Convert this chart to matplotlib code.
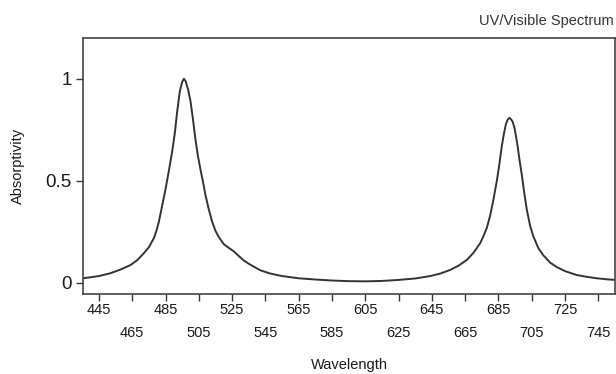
import matplotlib.pyplot as plt

# absorptivity
wavelength = [435, 440, 445, 452, 458, 464, 468, 472, 475, 478, 479.5, 481, 483, 485, 487,
              489, 490.5, 492, 493.6, 495, 496, 497, 498.6, 500, 501.5, 503, 504.5, 506,
              507.5, 509, 511, 513, 515, 517, 520, 523, 526, 529, 532, 535, 538, 542, 548,
              555, 565, 575, 585, 595, 605, 615, 625, 635, 644, 650, 656, 661, 666, 670,
              674, 676, 678, 680, 682, 684, 685.5, 687, 688, 689.4, 690.5, 691.6, 692.7,
              693.5, 694.6, 695.5, 696.5, 697.5, 699, 700.5, 702, 704, 706, 709, 712, 716,
              720, 725, 732, 738, 744, 750, 755]
absorptivity = [0.023, 0.028, 0.034, 0.048, 0.066, 0.088, 0.112, 0.146, 0.175, 0.22, 0.255,
                0.30, 0.38, 0.46, 0.55, 0.645, 0.73, 0.84, 0.94, 0.985, 1.0, 0.99, 0.946,
                0.89, 0.80, 0.70, 0.62, 0.555, 0.495, 0.43, 0.36, 0.30, 0.255, 0.225, 0.19,
                0.172, 0.155, 0.132, 0.11, 0.094, 0.08, 0.062, 0.046, 0.034, 0.023, 0.017,
                0.012, 0.009, 0.008, 0.01, 0.015, 0.022, 0.034, 0.046, 0.064, 0.085, 0.113,
                0.148, 0.195, 0.23, 0.27, 0.33, 0.41, 0.5, 0.58, 0.67, 0.72, 0.776, 0.80,
                0.809, 0.80, 0.79, 0.76, 0.72, 0.67, 0.61, 0.53, 0.44, 0.36, 0.28, 0.227,
                0.17, 0.135, 0.1, 0.078, 0.058, 0.039, 0.03, 0.023, 0.018, 0.015]

xticks = list(range(445, 746, 20))
yticks = [0, 0.5, 1]
ytick_labels = ['0', '0.5', '1']

plt.rcParams['font.family'] = ['Liberation Sans', 'DejaVu Sans']

fig = plt.figure(figsize=(6.16, 3.74), dpi=100)
ax = fig.add_axes([0.1347, 0.2139, 0.8637, 0.6845])

ax.plot(wavelength, absorptivity, color='#333333', linewidth=1.4)

ax.set_xlim(435.4, 755)
ax.set_ylim(-0.054, 1.2)

# labels alternate between two rows
xtick_labels = [str(t) if i % 2 == 0 else '\n' + str(t) for i, t in enumerate(xticks)]
ax.set_xticks(xticks)
ax.set_xticklabels(xtick_labels, fontsize=10.5, linespacing=1.85)
ax.set_yticks(yticks)
ax.set_yticklabels(ytick_labels, fontsize=13.5)
ax.tick_params(direction='out', length=5, width=1, colors='#333333')
ax.tick_params(axis='x', labelcolor='#1a1a1a', pad=1.5)
ax.tick_params(axis='y', labelcolor='#1a1a1a', pad=3)

for s in ax.spines.values():
    s.set_color('#444444')
    s.set_linewidth(1.2)

ax.set_xlabel('Wavelength', fontsize=10.5, color='#1a1a1a', labelpad=13)
ax.set_ylabel('Absorptivity', fontsize=10.5, color='#1a1a1a', labelpad=15)
fig.text(0.997, 0.945, 'UV/Visible Spectrum', ha='right', va='center',
         fontsize=10.5, color='#333333')

fig.savefig('out.png', dpi=100)
